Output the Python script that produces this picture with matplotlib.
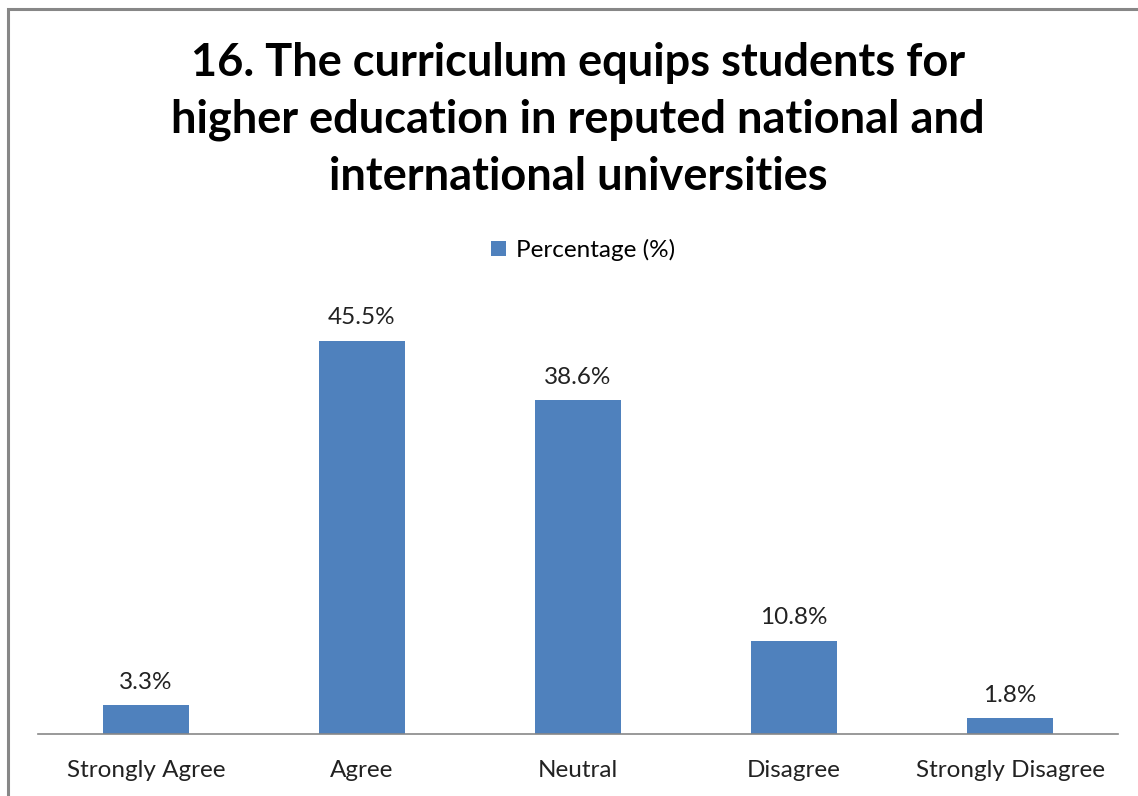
import matplotlib.pyplot as plt
from matplotlib.patches import Rectangle

# Survey responses for item 16
categories = ['Strongly Agree', 'Agree', 'Neutral', 'Disagree', 'Strongly Disagree']
percentages = [3.3, 45.5, 38.6, 10.8, 1.8]
labels = ['3.3%', '45.5%', '38.6%', '10.8%', '1.8%']

plt.rcParams['font.family'] = ['Lato', 'DejaVu Sans']

W, H = 1138, 796
fig = plt.figure(figsize=(W / 100, H / 100), dpi=100, facecolor='white')

# chart frame (only the top and left edges are inside the picture)
fig.patches.append(Rectangle((8 / W, -0.1), 1.2, 1 - 9 / H + 0.1, transform=fig.transFigure,
                             fill=False, edgecolor='#878787', linewidth=2.2))

ax = fig.add_axes([38 / W, 1 - 734 / H, 1080 / W, 432 / H])
bars = ax.bar(range(len(categories)), percentages, width=0.4, color='#4F81BD', label='Percentage (%)')
ax.set_xlim(-0.5, len(categories) - 0.5)
ax.set_ylim(0, 50)

for b, t in zip(bars, labels):
    ax.annotate(t, (b.get_x() + b.get_width() / 2, b.get_height()), xytext=(0, 9),
                textcoords='offset points', ha='center', va='bottom', fontsize=17.5, color='#222222')

ax.set_xticks(range(len(categories)))
ax.set_xticklabels(categories, fontsize=17.5, color='#222222')
ax.tick_params(axis='x', length=0, pad=19)
ax.set_yticks([])
for s in ['top', 'right', 'left']:
    ax.spines[s].set_visible(False)
ax.spines['bottom'].set_color('#878787')
ax.spines['bottom'].set_linewidth(1.2)

fig.text(578 / W, 1 - 120 / H,
         '16. The curriculum equips students for\nhigher education in reputed national and\ninternational universities',
         ha='center', va='center', fontsize=32.5, fontweight='bold', linespacing=1.42)

fig.legend(handles=[bars], loc='center', bbox_to_anchor=(583 / W, 1 - 250 / H), frameon=False,
           fontsize=17.5, handlelength=0.6, handleheight=0.6, handletextpad=0.4)

fig.savefig('out.png', dpi=100, facecolor='white')
